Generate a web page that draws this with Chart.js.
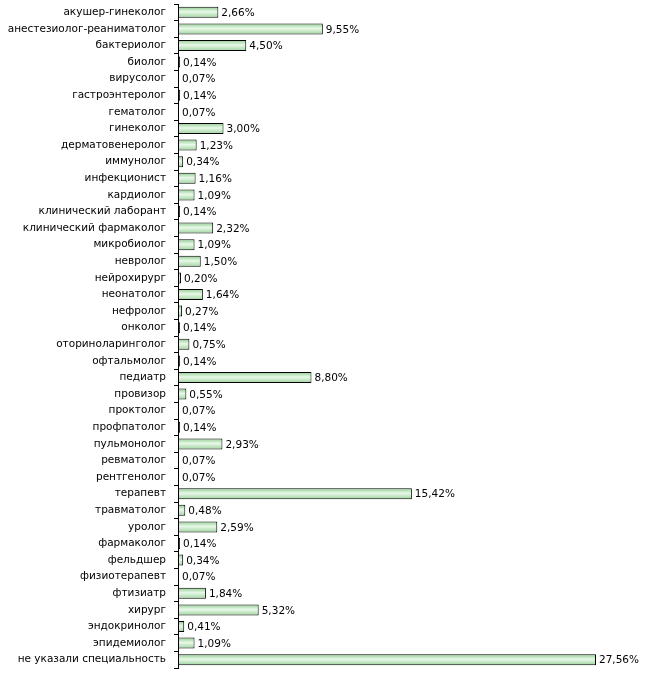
<!DOCTYPE html>
<html>
<head>
<meta charset="utf-8">
<script src="https://cdn.jsdelivr.net/npm/chart.js@4"></script>
<style>
    body { margin: 0; background: #fff; }
    #wrap { width: 650px; height: 675px; }
</style>
</head>
<body>
<div id="wrap"><canvas id="chart"></canvas></div>
<script>
// Specialities and their share of respondents, %
const specialities = [
    'акушер-гинеколог', 'анестезиолог-реаниматолог', 'бактериолог', 'биолог', 'вирусолог',
    'гастроэнтеролог', 'гематолог', 'гинеколог', 'дерматовенеролог', 'иммунолог',
    'инфекционист', 'кардиолог', 'клинический лаборант', 'клинический фармаколог', 'микробиолог',
    'невролог', 'нейрохирург', 'неонатолог', 'нефролог', 'онколог',
    'оториноларинголог', 'офтальмолог', 'педиатр', 'провизор', 'проктолог',
    'профпатолог', 'пульмонолог', 'ревматолог', 'рентгенолог', 'терапевт',
    'травматолог', 'уролог', 'фармаколог', 'фельдшер', 'физиотерапевт',
    'фтизиатр', 'хирург', 'эндокринолог', 'эпидемиолог', 'не указали специальность'
];
const shares = [
    2.66, 9.55, 4.50, 0.14, 0.07,
    0.14, 0.07, 3.00, 1.23, 0.34,
    1.16, 1.09, 0.14, 2.32, 1.09,
    1.50, 0.20, 1.64, 0.27, 0.14,
    0.75, 0.14, 8.80, 0.55, 0.07,
    0.14, 2.93, 0.07, 0.07, 15.42,
    0.48, 2.59, 0.14, 0.34, 0.07,
    1.84, 5.32, 0.41, 1.09, 27.56
];
const axisMax = 30;

const FONT = 'DejaVu Sans';
const BAR_PCT = 0.66;

/**
 * Vertical green gradient for each bar
 */
function barFill(context) {
    const chart = context.chart;
    const yScale = chart.scales.y;
    if (!yScale || context.dataIndex === undefined) return '#c8ecc8';
    const center = yScale.getPixelForValue(context.dataIndex);
    const h = (yScale.height / specialities.length) * BAR_PCT;
    if (!isFinite(center) || !isFinite(h) || h <= 0) return '#c8ecc8';
    const top = center - h / 2;
    const g = chart.ctx.createLinearGradient(0, top, 0, top + h);
    g.addColorStop(0, '#8fcb8f');
    g.addColorStop(0.45, '#e8f9e8');
    g.addColorStop(1, '#9fd39f');
    return g;
}

// Value labels to the right of each bar
const valueLabels = {
    id: 'valueLabels',
    afterDatasetsDraw(chart) {
        const ctx = chart.ctx;
        const meta = chart.getDatasetMeta(0);
        ctx.save();
        ctx.font = '10.5px "' + FONT + '"';
        ctx.fillStyle = '#000';
        ctx.textBaseline = 'middle';
        ctx.textAlign = 'left';
        meta.data.forEach((bar, i) => {
            const txt = shares[i].toFixed(2).replace('.', ',') + '%';
            ctx.fillText(txt, bar.x + 3, bar.y + 1);
        });
        ctx.restore();
    }
};

const ctx = document.getElementById('chart').getContext('2d');
new Chart(ctx, {
    type: 'bar',
    data: {
        labels: specialities,
        datasets: [{
            data: shares,
            backgroundColor: barFill,
            borderColor: '#000',
            borderWidth: 1,
            borderSkipped: false,
            barPercentage: BAR_PCT,
            categoryPercentage: 1
        }]
    },
    options: {
        indexAxis: 'y',
        responsive: true,
        maintainAspectRatio: false,
        animation: false,
        layout: { padding: { top: 4, right: 17, bottom: 7, left: 0 } },
        plugins: {
            legend: { display: false },
            tooltip: { enabled: false }
        },
        scales: {
            x: {
                min: 0,
                max: axisMax,
                display: false
            },
            y: {
                afterFit(scale) {
                    scale.width = 178;
                    scale.paddingTop = 0;
                    scale.paddingBottom = 0;
                },
                grid: {
                    offset: true,
                    drawOnChartArea: false,
                    drawTicks: true,
                    tickLength: 4,
                    color: '#000'
                },
                border: { display: true, color: '#000', width: 1 },
                ticks: {
                    color: '#000',
                    padding: 8,
                    autoSkip: false,
                    font: { family: FONT, size: 10.5 }
                }
            }
        }
    },
    plugins: [valueLabels]
});
</script>
</body>
</html>
